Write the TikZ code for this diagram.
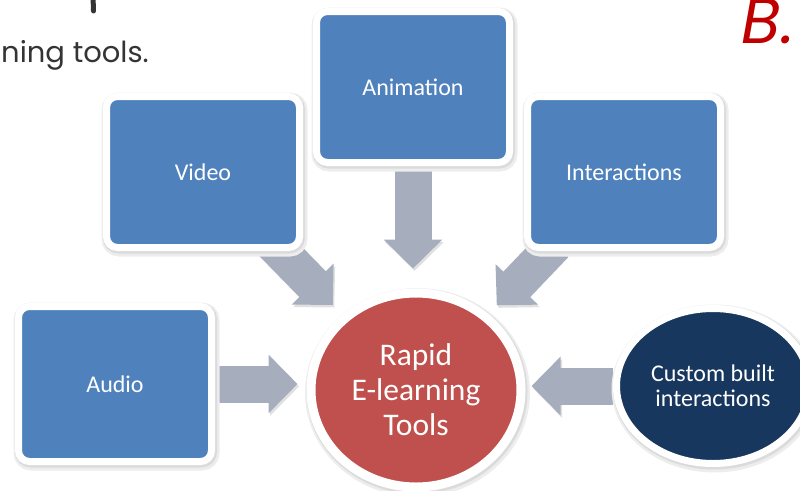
\documentclass[tikz,border=0pt]{standalone}
\usepackage{fontspec}
\setmainfont{Carlito}
\newfontfamily\handfont{Poppins}
\usetikzlibrary{arrows.meta,positioning,shapes.geometric,backgrounds}
\definecolor{elBlue}{RGB}{79,129,189}
\definecolor{elRed}{RGB}{192,80,77}
\definecolor{elNavy}{RGB}{23,55,94}
\definecolor{elGray}{RGB}{166,173,189}
\definecolor{elInk}{RGB}{52,52,52}
\definecolor{elMark}{RGB}{192,0,0}

\tikzset{
  softshadow/.style={
    preaction={draw=black!7, line width=#1+6pt, transform canvas={shift={(1.5pt,-2.5pt)}}},
    preaction={draw=black!14, line width=#1+2pt, transform canvas={shift={(1pt,-1.5pt)}}}},
  toolbox/.style={draw=white, line width=7pt, fill=elBlue, rounded corners=11pt,
    minimum width=193pt, minimum height=151pt, text=white,
    font=\fontsize{24}{26}\selectfont, softshadow=7pt},
  hubnode/.style={ellipse, draw=white, line width=9pt, fill=elRed, text=white,
    minimum width=210pt, minimum height=194pt, align=center,
    font=\fontsize{31.5}{35}\selectfont, softshadow=9pt},
  flowarrow/.style={elGray, line width=37pt, -{Triangle[length=29pt,width=57pt]},
    preaction={draw=black!12, transform canvas={shift={(1.5pt,-2.5pt)}}}},
}

\begin{document}
\begin{tikzpicture}[x=1pt,y=-1pt]
\useasboundingbox (0,0) rectangle (800,490);

% heading fragments
\draw[elInk, line width=5pt, line cap=round] (93,-4) -- (93.5,11);
\node[font=\handfont\fontsize{29}{29}\selectfont, text=elInk, inner sep=0pt, anchor=base west] (heading) at (1,62) {ning tools.};
\node[font=\handfont\itshape\fontsize{64}{64}\selectfont, text=elMark, anchor=base east] (mark) at (798,43) {B.};

% tools
\node[toolbox] (video) at (203,172) {Video};
\node[toolbox] (animation) at (413,87) {Animation};
\node[toolbox] (interactions) at (624,172) {Interactions};
\node[toolbox, minimum height=155pt] (audio) at (115,384) {Audio};
\node[hubnode] (rapid) at (416,390) {Rapid\\E-learning\\Tools};
\node[ellipse, draw=white, line width=7pt, fill=elNavy, text=white,
  minimum width=193pt, minimum height=155pt, align=center,
  font=\fontsize{24}{25}\selectfont, softshadow=7pt] (custom) at (713,386) {Custom built\\interactions};

\begin{scope}[on background layer]
\draw[flowarrow, shorten <=100pt, shorten >=119pt] (video.center) -- (rapid.center);
\draw[flowarrow, shorten >=20pt] (animation.south) -- (animation.south |- rapid.north);
\draw[flowarrow, shorten <=100pt, shorten >=117pt] (interactions.center) -- (rapid.center);
\draw[flowarrow, shorten >=9pt] (audio.east) -- (audio.east -| rapid.west);
\draw[flowarrow, shorten >=6pt] (custom.west) -- (custom.west -| rapid.east);
\end{scope}
\end{tikzpicture}
\end{document}
